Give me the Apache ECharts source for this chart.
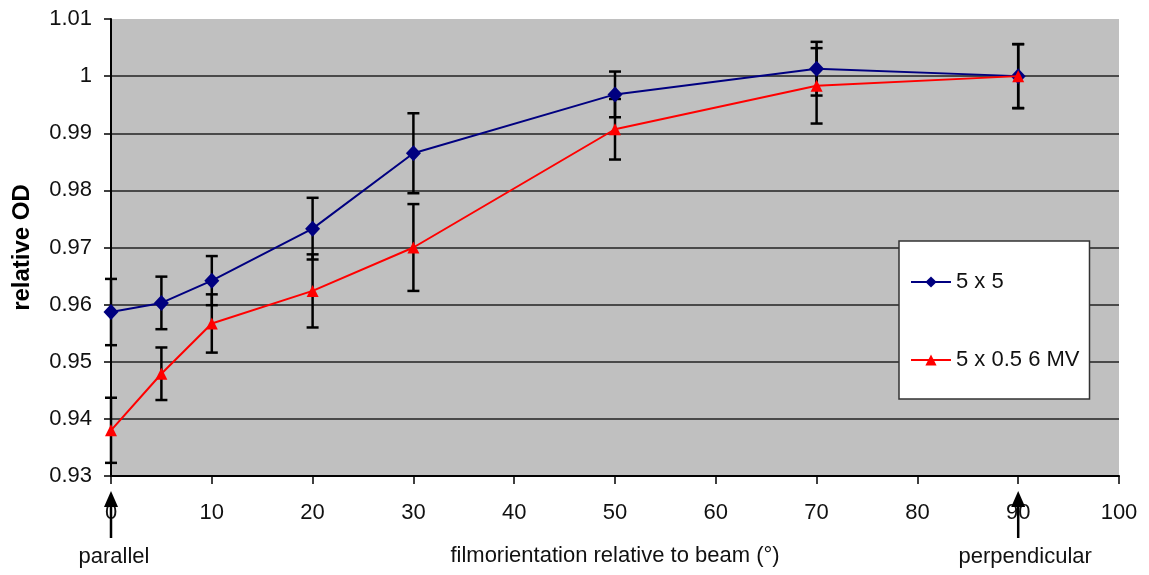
<!DOCTYPE html>
<html>
<head>
<meta charset="utf-8">
<script src="https://cdn.jsdelivr.net/npm/echarts@6/dist/echarts.min.js"></script>
<style>
  html, body { margin: 0; padding: 0; background: #fff; }
  #main { width: 1149px; height: 575px; }
</style>
</head>
<body>
<div id="main"></div>
<script>
// film orientation (degrees)
const angles = [0, 5, 10, 20, 30, 50, 70, 90]
// relative OD, 5 x 5 field
const od5x5 = [0.9587, 0.9603, 0.9642, 0.9733, 0.9865, 0.9968, 1.0013, 1.0]
const err5x5 = [0.0058, 0.0046, 0.0043, 0.0054, 0.0070, 0.0040, 0.0047, 0.0056]
// relative OD, 5 x 0.5 field at 6 MV
const od5x05 = [0.9380, 0.9479, 0.9567, 0.9624, 0.9700, 0.9907, 0.9983, 1.0]
const err5x05 = [0.0057, 0.0046, 0.0051, 0.0064, 0.0076, 0.0053, 0.0066, 0.0056]
// arrow annotations under the x axis
const arrowAt = [0, 90]
const arrowText = ['parallel', 'perpendicular']

const seriesNames = ['5 x 5', '5 x 0.5 6 MV']
const font = 'Liberation Sans, Arial, sans-serif'

const toPoints = (ys) => angles.map((a, i) => [a, ys[i]])
const toBars = (ys, errs) => angles.map((a, i) => [a, ys[i] - errs[i], ys[i] + errs[i]])

// vertical error bar with caps
const renderErr = (params, api) => {
  const x = api.value(0)
  const lo = api.coord([x, api.value(1)])
  const hi = api.coord([x, api.value(2)])
  const half = 6
  const style = { stroke: '#000', lineWidth: 2.5 }
  return {
    type: 'group',
    children: [
      { type: 'line', shape: { x1: lo[0], y1: lo[1], x2: hi[0], y2: hi[1] }, style },
      { type: 'line', shape: { x1: lo[0] - half, y1: lo[1], x2: lo[0] + half, y2: lo[1] }, style },
      { type: 'line', shape: { x1: hi[0] - half, y1: hi[1], x2: hi[0] + half, y2: hi[1] }, style }
    ]
  }
}

const chart = echarts.init(document.getElementById('main'))

// last split line (1.01) is not drawn in the reference
const splitColors = ['#222', '#222', '#222', '#222', '#222', '#222', '#222', '#222', 'rgba(0,0,0,0)']

chart.setOption({
  backgroundColor: '#fff',
  animation: false,
  textStyle: { fontFamily: font },
  grid: {
    left: 111,
    right: 30,
    top: 19,
    bottom: 99,
    show: true,
    backgroundColor: '#c0c0c0',
    borderWidth: 0
  },
  legend: {
    orient: 'vertical',
    left: 899,
    top: 241,
    backgroundColor: '#fff',
    borderColor: '#333',
    borderWidth: 1.5,
    padding: [30, 10, 28, 11],
    itemGap: 56,
    itemWidth: 40,
    itemHeight: 14,
    textStyle: { fontSize: 22, color: '#111', fontFamily: font },
    data: seriesNames
  },
  xAxis: {
    type: 'value',
    min: 0,
    max: 100,
    interval: 10,
    name: 'filmorientation relative to beam (°)',
    nameLocation: 'middle',
    nameGap: 69,
    nameTextStyle: { fontSize: 22, color: '#111' },
    axisLine: { lineStyle: { color: '#000', width: 2 } },
    axisTick: { length: 8, lineStyle: { color: '#000', width: 1.5 } },
    axisLabel: { fontSize: 22, color: '#111', margin: 26 },
    splitLine: { show: false }
  },
  yAxis: {
    type: 'value',
    min: 0.93,
    max: 1.01,
    interval: 0.01,
    name: 'relative OD',
    nameLocation: 'middle',
    nameRotate: 90,
    nameGap: 77,
    nameTextStyle: { fontSize: 24, fontWeight: 'bold', color: '#000' },
    axisLine: { show: true, lineStyle: { color: '#000', width: 2 } },
    axisTick: { show: true, length: 7, lineStyle: { color: '#000', width: 1.5 } },
    axisLabel: {
      fontSize: 22,
      color: '#111',
      margin: 19,
      formatter: (v) => String(+v.toFixed(2))
    },
    splitLine: { show: true, lineStyle: { color: splitColors, width: 1.5 } }
  },
  series: [
    {
      type: 'custom',
      name: 'err5x5',
      renderItem: renderErr,
      data: toBars(od5x5, err5x5),
      encode: { x: 0, y: [1, 2] },
      z: 1,
      silent: true
    },
    {
      type: 'custom',
      name: 'err5x05',
      renderItem: renderErr,
      data: toBars(od5x05, err5x05),
      encode: { x: 0, y: [1, 2] },
      z: 1,
      silent: true
    },
    {
      type: 'line',
      name: seriesNames[0],
      data: toPoints(od5x5),
      color: '#000080',
      symbol: 'diamond',
      symbolSize: [15, 16],
      lineStyle: { color: '#000080', width: 2 },
      itemStyle: { color: '#000080' },
      z: 3
    },
    {
      type: 'line',
      name: seriesNames[1],
      data: toPoints(od5x05),
      color: '#ff0000',
      symbol: 'triangle',
      symbolSize: 12,
      lineStyle: { color: '#ff0000', width: 2 },
      itemStyle: { color: '#ff0000' },
      z: 4
    }
  ]
})

// arrows and captions below the axis, placed via the x scale
const axisY = chart.convertToPixel({ yAxisIndex: 0 }, 0.93)
const graphics = []
arrowAt.forEach((a, i) => {
  const x = chart.convertToPixel({ xAxisIndex: 0 }, a)
  graphics.push({
    type: 'line',
    shape: { x1: x, y1: axisY + 62, x2: x, y2: axisY + 26 },
    style: { stroke: '#000', lineWidth: 2.5 },
    z: 10
  })
  graphics.push({
    type: 'polygon',
    shape: { points: [[x, axisY + 15], [x - 7, axisY + 31], [x + 7, axisY + 31]] },
    style: { fill: '#000' },
    z: 10
  })
  graphics.push({
    type: 'text',
    x: x + (i === 0 ? 3 : 7),
    y: axisY + 81,
    style: {
      text: arrowText[i],
      fontSize: 22,
      fontFamily: font,
      fill: '#111',
      align: 'center',
      verticalAlign: 'middle'
    },
    z: 10
  })
})
chart.setOption({ graphic: graphics })
</script>
</body>
</html>
